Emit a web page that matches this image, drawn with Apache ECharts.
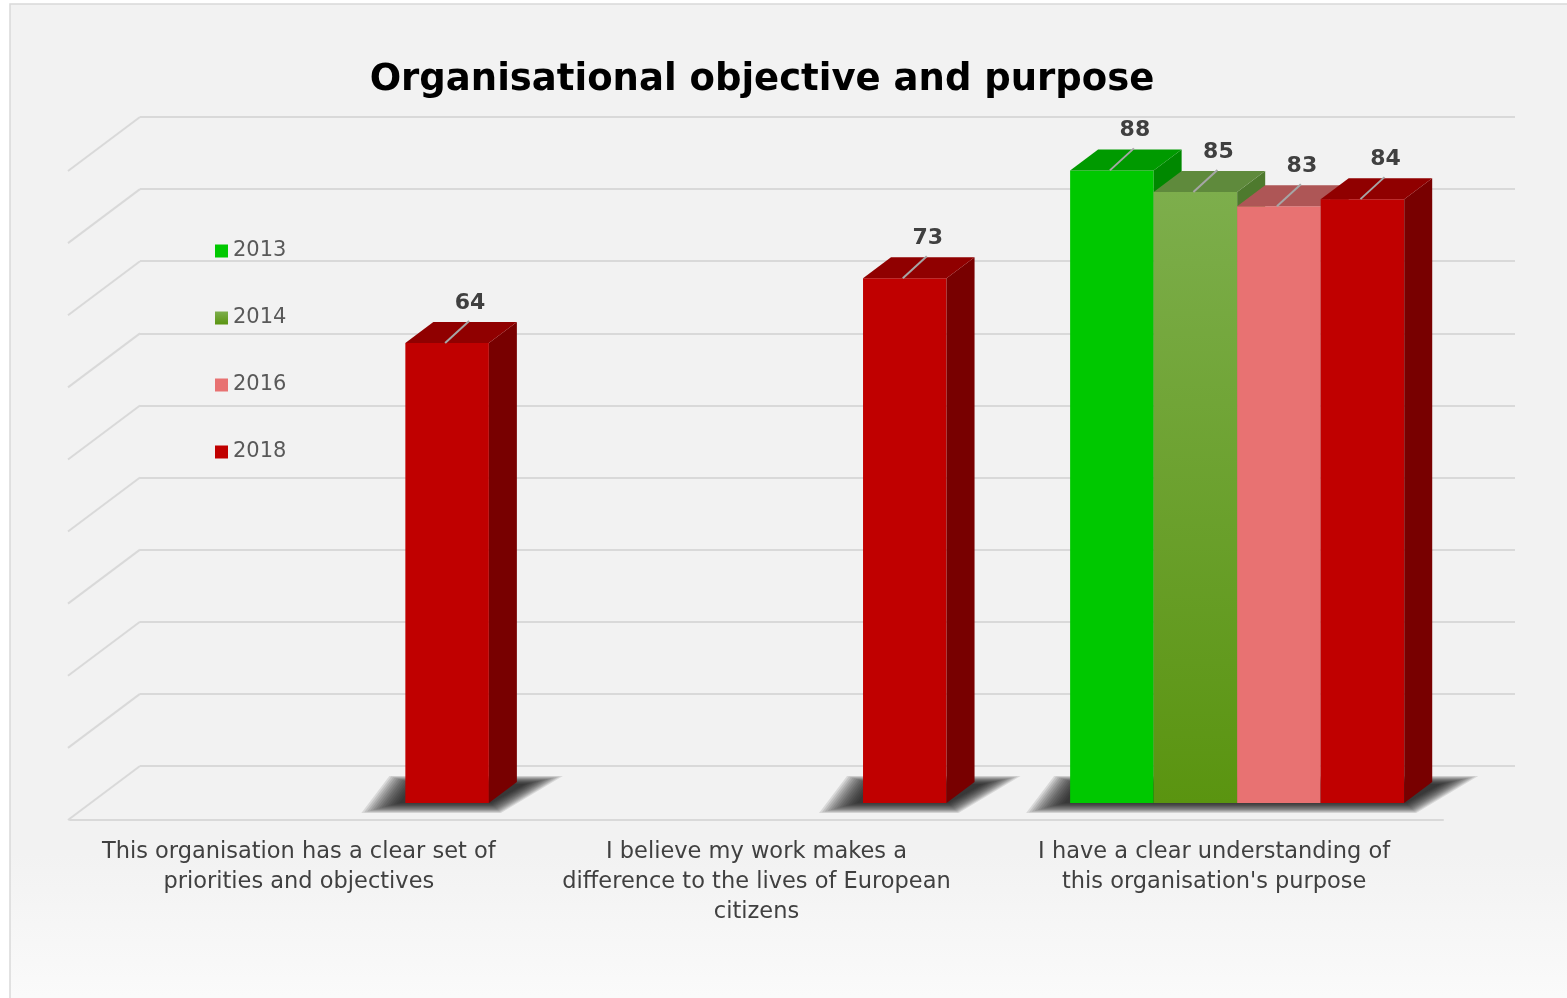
<!DOCTYPE html>
<html><head><meta charset="utf-8">
<script src="https://cdn.jsdelivr.net/npm/echarts@6/dist/echarts.min.js"></script>
<style>html,body{margin:0;padding:0;background:#fff}#c{width:1567px;height:998px}</style>
</head><body><div id="c"></div>
<script>
// ---- data ----
const categories = [
  "This organisation has a clear set of\npriorities and objectives",
  "I believe my work makes a\ndifference to the lives of European\ncitizens",
  "I have a clear understanding of\nthis organisation's purpose"
];
const years = ["2013", "2014", "2016", "2018"];
const values2013 = [null, null, 88];
const values2014 = [null, null, 85];
const values2016 = [null, null, 83];
const values2018 = [64, 73, 84];
const wallTicks = [0, 10, 20, 30, 40, 50, 60, 70, 80, 90];

// ---- styling ----
const seriesValues = [values2013, values2014, values2016, values2018];
function vgrad(a, b) {
  return new echarts.graphic.LinearGradient(0, 0, 0, 1, [{offset: 0, color: a}, {offset: 1, color: b}]);
}
const palette = [
  {front: '#00C800', top: '#009A00', side: '#008800', legend: '#00C800'},
  {front: vgrad('#7DAE4C', '#5A9410'), top: '#5F8A3C', side: '#4E7A2E', legend: vgrad('#7DAE4C', '#5A9410')},
  {front: '#E87272', top: '#AE5656', side: '#963F3F', legend: '#E87272'},
  {front: '#C00000', top: '#900000', side: '#780000', legend: '#C00000'}
];
const DX = 28, DY = -21;   // bar depth projection
const WX = -72, WY = 54;   // floor depth projection
const GROUP = 0.73;
const FONT = '"DejaVu Sans", sans-serif';

function barGeom(api, cat, v, s) {
  const base = api.coord([cat, 0]);
  const top = api.coord([cat, v]);
  const band = api.size([1, 0])[0];
  const w = band * GROUP / 4;
  const x0 = base[0] - 2 * w + s * w;
  return {x0: x0, x1: x0 + w, w: w, yb: base[1], yt: top[1]};
}

function barRenderer(s) {
  return function (params, api) {
    const cat = api.value(0), v = api.value(1);
    const g = barGeom(api, cat, v, s);
    const c = palette[s];
    const cx = (g.x0 + g.x1) / 2;
    return {type: 'group', children: [
      {type: 'rect', shape: {x: g.x0, y: g.yt, width: g.w, height: g.yb - g.yt}, style: {fill: c.front}},
      {type: 'polygon', shape: {points: [[g.x1, g.yt], [g.x1 + DX, g.yt + DY], [g.x1 + DX, g.yb + DY], [g.x1, g.yb]]}, style: {fill: c.side}},
      {type: 'polygon', shape: {points: [[g.x0, g.yt], [g.x1, g.yt], [g.x1 + DX, g.yt + DY], [g.x0 + DX, g.yt + DY]]}, style: {fill: c.top}},
      {type: 'line', shape: {x1: cx - 2, y1: g.yt, x2: cx + 22, y2: g.yt - 22}, style: {stroke: '#A6A6A6', lineWidth: 2}},
      {type: 'text', x: cx + 23, y: g.yt - 40, style: {text: String(v), align: 'center', verticalAlign: 'middle', font: 'bold 22px ' + FONT, fill: '#404040'}}
    ]};
  };
}

// soft floor shadow under each category's bar block (layered translucent polygons)
function lerp(a, b, e) { return [a[0] + (b[0] - a[0]) * e, a[1] + (b[1] - a[1]) * e]; }
function shadowRenderer(params, api) {
  const cat = api.value(0), sFirst = api.value(1), sLast = api.value(2);
  const a = barGeom(api, cat, 0, sFirst), b = barGeom(api, cat, 0, sLast);
  const x0 = a.x0, x1 = b.x1, yb = a.yb;
  const inner = [[x0 - 6, yb], [x1 + 2, yb], [x1 + DX + 8, yb + DY + 2], [x0 + 8, yb + DY + 2]];
  const outer = [[x0 - 44, yb + 10], [x1 + 12, yb + 10], [x1 + DX + 46, yb + DY - 6], [x0 - 16, yb + DY - 6]];
  const N = 14, children = [];
  for (let k = N - 1; k >= 0; k--) {
    const e = k / (N - 1);
    children.push({type: 'polygon',
      shape: {points: inner.map((p, j) => lerp(p, outer[j], e))},
      style: {fill: 'rgba(20,20,20,0.115)'}});
  }
  return {type: 'group', children: children};
}

function wallRenderer(params, api) {
  const p = api.coord([0, api.value(0)]);
  return {type: 'line', shape: {x1: p[0], y1: p[1], x2: p[0] + WX, y2: p[1] + WY},
    style: {stroke: '#D9D9D9', lineWidth: 2}};
}

const shadowData = categories.map((c, i) => {
  const present = seriesValues.map((arr, s) => arr[i] != null ? s : -1).filter(s => s >= 0);
  return [i, present[0], present[present.length - 1]];
});

const series = [
  {type: 'custom', name: 'wall', xAxisIndex: 0, yAxisIndex: 0, z: 1, silent: true,
   data: wallTicks.map(t => [t]), encode: {y: 0}, renderItem: wallRenderer},
  {type: 'custom', name: 'shadow', xAxisIndex: 1, yAxisIndex: 1, z: 2, silent: true,
   data: shadowData, encode: {x: 0}, renderItem: shadowRenderer}
];
years.forEach((y, s) => {
  series.push({
    type: 'custom', name: y, xAxisIndex: 1, yAxisIndex: 1, z: 3,
    itemStyle: {color: palette[s].legend},
    data: seriesValues[s].map((v, i) => v == null ? null : [i, v]).filter(d => d),
    encode: {x: 0, y: 1},
    renderItem: barRenderer(s)
  });
});

const chart = echarts.init(document.getElementById('c'), null, {renderer: 'canvas'});
chart.setOption({
  backgroundColor: '#ffffff',
  animation: false,
  graphic: [{
    type: 'rect', z: -100, silent: true,
    shape: {x: 10, y: 4, width: 1600, height: 1010},
    style: {fill: new echarts.graphic.LinearGradient(0, 0, 0, 1, [
      {offset: 0, color: '#F2F2F2'}, {offset: 0.84, color: '#F2F2F2'}, {offset: 1, color: '#FBFBFB'}]),
      stroke: '#D9D9D9', lineWidth: 1.5}
  }],
  title: {
    text: 'Organisational objective and purpose',
    left: 757, top: 57, textAlign: 'center',
    textStyle: {fontSize: 37, fontWeight: 'bold', color: '#000000', fontFamily: FONT}
  },
  legend: {
    orient: 'vertical', left: 210, top: 233, itemWidth: 13, itemHeight: 13, itemGap: 41,
    icon: 'rect', selectedMode: false,
    textStyle: {fontSize: 21, color: '#595959', fontFamily: FONT, lineHeight: 26},
    data: years.map((y, i) => ({name: y, itemStyle: {color: palette[i].legend}}))
  },
  grid: [
    {left: 140, right: 52, top: 117, bottom: 232},   // back wall
    {left: 93, right: 101, top: 156, bottom: 195},   // bar front plane
    {left: 70, right: 124, top: 171, bottom: 178}    // floor front edge
  ],
  xAxis: [
    {gridIndex: 0, type: 'value', min: 0, max: 1, show: false},
    {gridIndex: 1, type: 'category', data: categories, show: false},
    {gridIndex: 2, type: 'category', data: categories,
     axisLine: {show: true, lineStyle: {color: '#D9D9D9', width: 2}},
     axisTick: {show: false},
     axisLabel: {interval: 0, margin: 17, fontSize: 22.5, lineHeight: 30, color: '#404040', fontFamily: FONT}}
  ],
  yAxis: [
    {gridIndex: 0, type: 'value', min: 0, max: 90, interval: 10,
     axisLine: {show: false}, axisTick: {show: false}, axisLabel: {show: false},
     splitLine: {show: true, lineStyle: {color: '#D9D9D9', width: 2}}},
    {gridIndex: 1, type: 'value', min: 0, max: 90, show: false, splitLine: {show: false}},
    {gridIndex: 2, type: 'value', min: 0, max: 90, show: false, splitLine: {show: false}}
  ],
  series: series
});
</script>
</body></html>
